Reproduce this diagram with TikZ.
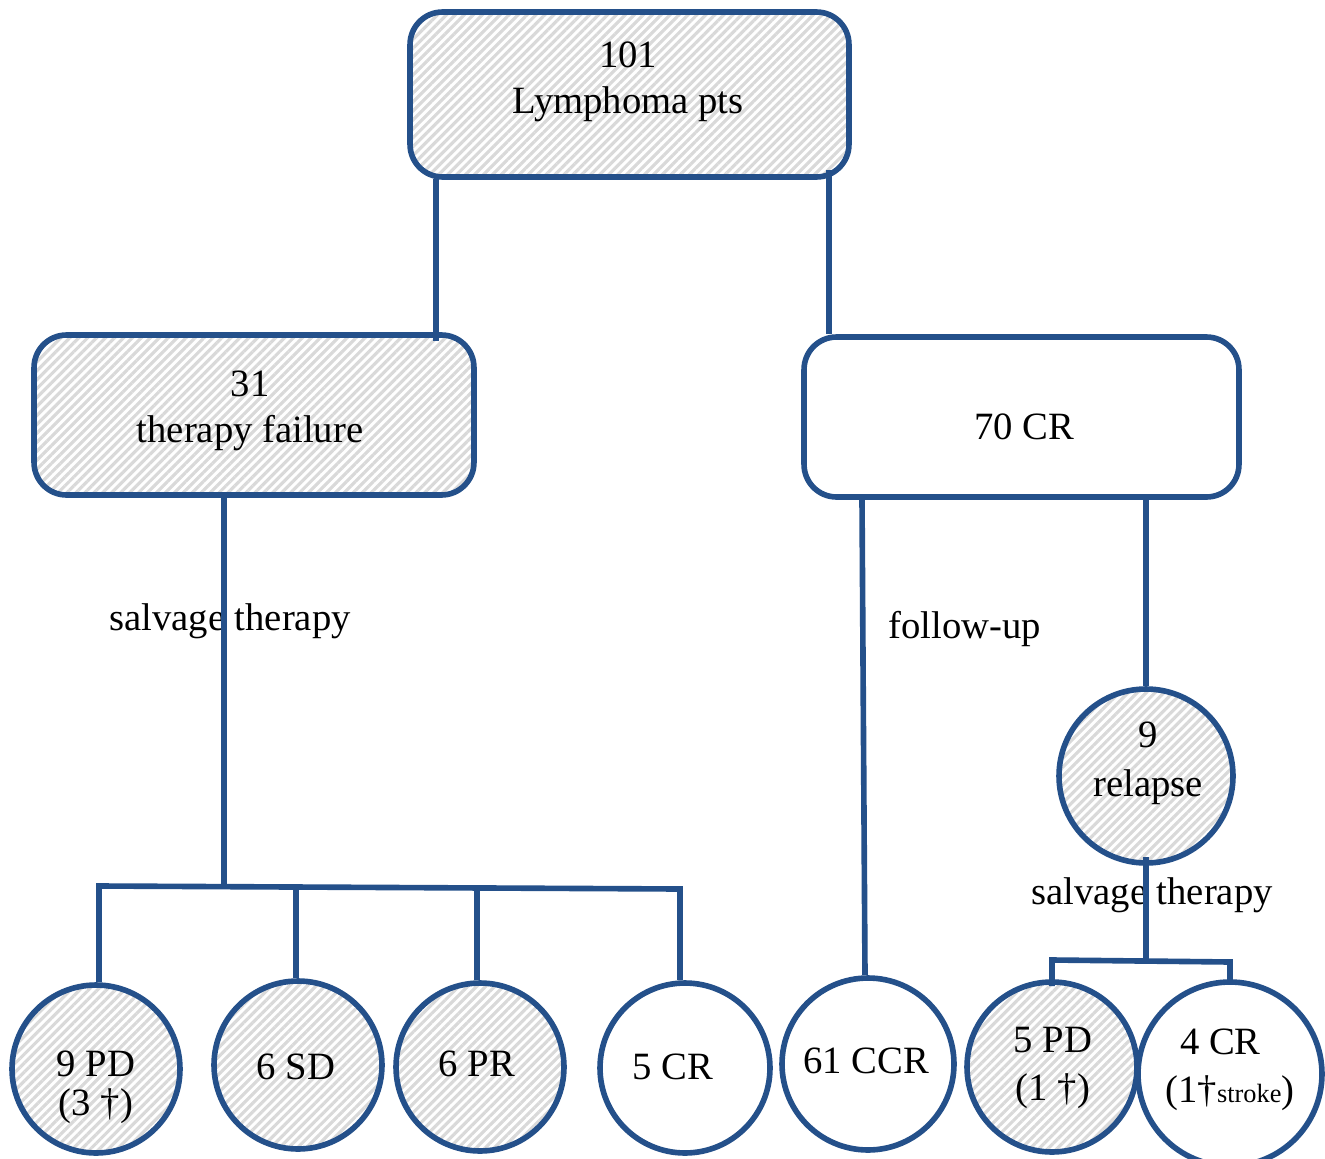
\documentclass[tikz,border=0pt]{standalone}
\usepackage{fontspec}
\setmainfont{Liberation Serif}
\usetikzlibrary{patterns.meta}
\definecolor{lblue}{HTML}{24508A}
\begin{document}
\begin{tikzpicture}[x=0.02cm,y=-0.02cm,
  conn/.style={draw=lblue,line width=3.2pt},
  rbox/.style={rectangle,draw=lblue,line width=3.2pt,rounded corners=0.65cm,inner sep=0},
  circ/.style={circle,draw=lblue,line width=3.2pt,inner sep=0,minimum size=#1},
  circ/.default=3.36cm,
  hatch/.style={pattern={Lines[angle=45,distance=3.6pt,line width=1.8pt]},pattern color=gray!30},
  txt/.style={inner sep=0,align=center,font=\fontsize{22}{26}\selectfont},
  txtb/.style={inner sep=0,align=center,font=\fontsize{22}{#1}\selectfont}]
\useasboundingbox (0,0) rectangle (1325,1159);
\clip (0,0) rectangle (1325,1159);
% boxes
\node[rbox,hatch,minimum width=8.78cm,minimum height=3.3cm] (top) at (629.5,94.5) {};
\node[rbox,hatch,minimum width=8.8cm,minimum height=3.2cm] (f31) at (254,415) {};
\node[rbox,fill=white,minimum width=8.7cm,minimum height=3.2cm] (cr70) at (1021.5,417) {};
% circles
\node[circ=3.36cm,hatch] (pd9) at (96,1069) {};
\node[circ=3.36cm,hatch] (sd6) at (298,1065) {};
\node[circ=3.36cm,hatch] (pr6) at (480,1067) {};
\node[circ=3.4cm,fill=white] (cr5) at (685,1068) {};
\node[circ=3.44cm,fill=white] (ccr61) at (868,1064) {};
\node[circ=3.48cm,hatch] (rel) at (1146,776) {};
\node[circ=3.4cm,hatch] (pd5) at (1052,1067) {};
\node[circ=3.68cm,fill=white] (cr4) at (1230,1074) {};
% texts
\node[txtb=26pt] (ttop) at (628,82) {101\\Lymphoma pts};
\node[txtb=26pt] (t31) at (250,411) {31\\therapy failure};
\node[txt] (t70) at (1024,427) {70 CR};
\node[txtb=22pt] (t9pd) at (96,1087) {9 PD\\(3 †)};
\node[txt] (t6sd) at (296,1067) {6 SD};
\node[txt] (t6pr) at (477,1064) {6 PR};
\node[txt] (t5cr) at (673,1067) {5 CR};
\node[txt] (t61) at (866,1061) {61 CCR};
\node[txtb=28pt] (trel) at (1148,763) {9\\relapse};
\node[txtb=27pt] (t5pd) at (1053,1068) {5 PD\\(1 †)};
\node[txtb=27pt] (t4cr) at (1230,1070) {\hspace*{-0.5em}4 CR\\(1†{\fontsize{15}{15}\selectfont stroke})};
\node[txt] (lsal1) at (230,621) {salvage therapy};
\node[txt] (lfol) at (965,629) {follow-up};
\node[txt] (lsal2) at (1152,895) {salvage therapy};
% connectors
\coordinate (xa) at (436,0);
\coordinate (xb) at (829,0);
\coordinate (xc) at (224,0);
\coordinate (xd) at (862,0);
\coordinate (xe) at (865,0);
\coordinate (x1) at (99,0);
\coordinate (x2) at (296,0);
\coordinate (x3) at (477,0);
\coordinate (x4) at (680,0);
\coordinate (ya) at (0,886);
\coordinate (yb) at (0,889);
\coordinate (hm) at (0,887);
\coordinate (yc) at (0,960);
\coordinate (yd) at (0,962);
\draw[conn] (top.south -| xa) -- ([yshift=-5pt]f31.north -| xa);
\draw[conn] ([yshift=5pt]top.south -| xb) -- (cr70.north -| xb);
\draw[conn] (f31.south -| xc) -- (xc |- hm);
\draw[conn] (pd9.north -| x1) -- (x1 |- ya) -- (x4 |- yb) -- (cr5.north -| x4);
\draw[conn] (sd6.north -| x2) -- (x2 |- hm);
\draw[conn] (pr6.north -| x3) -- (x3 |- hm);
\draw[conn] (cr70.south -| xd) -- (ccr61.north -| xe);
\draw[conn] (cr70.south -| rel.north) -- (rel.north);
\draw[conn] ([yshift=5pt]rel.south) -- (rel.south |- yc);
\draw[conn] ([yshift=-4pt]pd5.north) -- (pd5.north |- yc) -- (cr4.north |- yd) -- ([yshift=-3pt]cr4.north);
\end{tikzpicture}
\end{document}
